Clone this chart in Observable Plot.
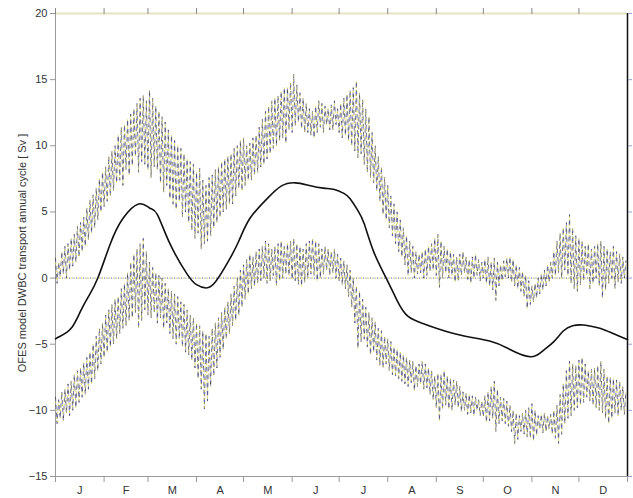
<!DOCTYPE html>
<html>
<head>
<meta charset="utf-8">
<script src="https://cdn.jsdelivr.net/npm/d3@7"></script>
<script src="https://cdn.jsdelivr.net/npm/@observablehq/plot@0.6"></script>
<style>
  html, body { margin: 0; padding: 0; background: #fff; }
  #chart { width: 633px; height: 498px; }
</style>
</head>
<body>
<div id="chart"></div>
<script>
// Month boundaries (day of year) and labels
const monthStarts = [0, 31, 59, 90, 120, 151, 181, 212, 243, 273, 304, 334, 365];
const monthLabels = ["J", "F", "M", "A", "M", "J", "J", "A", "S", "O", "N", "D"];
const yTicks = [-15, -10, -5, 0, 5, 10, 15, 20];
const yLabel = "OFES model DWBC transport annual cycle [ Sv ]";

// Mean annual cycle (thick line): day, value
const meanDays = [0, 3, 10, 16, 21, 27, 35, 43, 53, 60, 65, 73, 84, 90, 96, 102, 110, 117, 124, 135, 144, 153, 162, 171, 178, 184, 188, 193, 197, 203, 211, 218, 225, 237, 256, 278, 290, 303, 311, 318, 324, 330, 337, 344, 350, 358, 365];
const meanVals = [-4.6, -4.4, -3.8, -2.5, -1.4, 0, 2.6, 4.5, 5.6, 5.3, 4.8, 2.6, 0.3, -0.5, -0.75, -0.3, 1.2, 2.8, 4.5, 6.0, 6.95, 7.2, 7.0, 6.8, 6.7, 6.4, 6.0, 5.1, 4.1, 2.0, 0, -1.7, -2.9, -3.55, -4.25, -4.8, -5.4, -5.95, -5.5, -4.8, -4.0, -3.6, -3.55, -3.7, -3.9, -4.3, -4.65];

// Daily noisy envelopes (day 0 .. 364)
const upperVals = [
 1.5,-0.4,1.2,0.1, 2.0,0.3,2.4,0.0, 2.6,0.6,3.0,0.9, 3.3,1.2,3.9,1.6, 4.2,2.0,4.6,2.4, 5.3,2.9,5.9,3.4,
 6.3,3.8,6.8,4.4, 7.5,5.0,8.0,5.4, 8.4,5.8,9.2,6.2, 9.6,6.6,10.0,7.2, 10.8,7.4,11.4,7.0, 11.6,8.2,12.0,7.8,
 12.4,8.5,12.8,9.2, 13.2,8.0,13.6,8.8, 13.8,8.6,13.4,8.2, 14.2,7.6,13.6,8.4, 13.0,8.2,12.6,7.2, 12.2,6.5,11.8,7.0,
 11.2,6.0,10.8,5.6, 10.4,5.2,10.0,5.8, 9.8,4.6,9.4,5.0, 9.0,4.2,8.8,3.6, 8.6,3.0,8.0,3.4, 8.3,2.2,7.4,2.6,
 7.0,2.8,7.6,3.2, 7.8,3.8,8.2,4.2, 8.4,4.6,8.8,5.0, 9.0,5.2,9.2,5.6, 9.4,5.6,9.8,6.2, 10.0,6.8,10.4,6.6,
 10.6,7.0,10.0,7.4, 10.2,7.4,10.6,7.8, 10.8,8.0,11.4,8.4, 12.0,8.6,12.6,9.0, 13.0,9.4,13.4,9.8, 13.6,10.0,13.8,10.4,
 14.1,10.6,14.4,10.2, 14.4,11.2,14.8,11.0, 15.4,11.5,14.6,11.8, 14.0,11.3,13.6,11.0, 13.2,11.0,12.8,10.8, 12.6,10.6,13.0,11.0,
 13.4,11.4,13.2,11.0, 13.0,11.6,12.8,11.2, 13.1,11.2,13.4,11.6, 12.8,11.0,13.2,10.6, 13.6,10.8,13.9,10.4, 14.2,10.0,14.4,9.6,
 14.9,9.1,14.0,9.4, 13.5,8.6,12.8,8.0, 12.2,7.6,11.0,7.2, 10.0,6.6,9.2,5.8, 8.4,4.8,7.6,4.4, 7.0,3.8,6.2,3.2,
 5.6,2.6,5.0,2.0, 4.4,1.6,3.8,1.0, 3.2,0.2,2.8,0.4, 2.4,0.0,2.0,0.3, 1.8,0.4,2.0,0.0, 2.2,0.2,2.4,0.5,
 2.6,0.6,3.0,0.2, 3.3,-0.7,2.8,0.0, 2.4,0.4,2.2,0.0, 2.0,0.2,1.8,-0.3, 1.6,-0.2,1.8,0.2, 2.0,0.4,1.6,-0.1,
 1.4,-0.4,1.6,0.0, 1.8,0.2,1.4,-0.2, 1.2,0.0,1.4,-0.4, 1.6,-0.6,1.2,-0.9, 1.5,-1.7,1.2,-0.6, 1.0,-0.2,1.3,0.1,
 1.5,0.0,1.6,-0.3, 1.4,-0.6,1.0,-0.8, 0.8,-1.0,0.5,-1.4, 0.2,-2.3,-0.2,-2.0, -0.6,-1.8,-0.4,-1.5, 0.0,-1.2,0.3,-0.9,
 0.6,-0.6,1.0,-0.3, 1.2,0.0,2.0,0.2, 2.8,0.4,3.4,0.0, 3.8,0.6,4.2,0.2, 4.8,-0.4,3.8,-0.8, 3.2,-1.0,3.0,-0.5,
 2.8,-0.2,2.4,0.2, 2.6,-0.8,2.2,-0.4, 2.4,0.0,2.6,-0.6, 2.8,-1.5,2.4,-0.9, 2.2,-0.4,2.0,0.0, 2.4,-0.8,2.0,-0.3,
 1.8,-0.4,1.6,0.0, 1.3
];
const lowerVals = [
 -9.0,-11.0,-9.2,-10.6, -8.6,-10.8,-8.4,-10.2, -8.0,-10.4,-7.8,-10.0, -7.3,-9.8,-7.0,-9.4, -6.8,-9.0,-6.4,-8.8, -6.0,-8.4,-5.6,-8.0,
 -5.0,-7.6,-4.4,-7.0, -3.8,-6.5,-3.4,-6.0, -2.8,-5.6,-2.4,-5.2, -2.0,-5.0,-1.6,-4.6, -1.4,-4.2,-0.8,-3.8, -0.4,-3.6,0.4,-3.2,
 1.2,-3.0,1.8,-2.6, 2.2,-3.8,2.6,-3.2, 3.0,-2.4,2.0,-2.8, 1.2,-3.0,0.8,-2.6, 0.4,-3.4,0.2,-3.0, 0.0,-3.8,-0.4,-3.4,
 -0.8,-4.2,-1.0,-4.6, -1.2,-5.0,-1.4,-4.6, -1.8,-5.2,-2.0,-5.6, -2.4,-5.8,-2.8,-6.2, -3.0,-6.8,-3.4,-7.6, -3.6,-8.4,-4.0,-9.9,
 -4.2,-9.3,-4.4,-8.2, -3.8,-7.4,-3.4,-6.8, -3.0,-6.0,-2.6,-5.4, -2.2,-4.6,-1.8,-4.2, -1.2,-3.6,-0.6,-3.2, 0.0,-2.8,0.6,-2.2,
 1.0,-1.6,1.4,-1.2, 1.8,-0.8,1.6,-0.6, 2.0,-0.4,2.2,-0.2, 2.4,0.0,2.8,-0.4, 2.6,-0.2,2.2,0.2, 2.4,-0.6,2.6,-0.2,
 2.8,0.0,2.4,0.3, 2.6,0.2,2.8,-0.1, 3.0,-0.2,2.6,-0.5, 2.4,-0.6,2.2,-0.3, 2.6,0.0,2.8,0.3, 3.0,0.2,2.8,-0.2,
 2.6,0.0,2.2,0.3, 2.4,0.6,2.2,0.2, 2.0,0.4,2.2,0.0, 1.8,-0.2,1.5,-0.5, 1.3,-0.8,1.0,-1.4, 0.6,-2.2,0.0,-3.4,
 -0.6,-5.3,-1.0,-4.8, -1.6,-4.6,-2.2,-5.2, -2.6,-5.8,-3.0,-5.6, -3.3,-6.2,-3.8,-6.6, -4.0,-6.8,-4.4,-6.5, -4.6,-7.0,-4.8,-7.3,
 -5.2,-7.4,-5.4,-7.6, -5.6,-7.8,-5.8,-8.0, -6.0,-8.2,-6.2,-7.9, -6.3,-8.5,-6.6,-8.2, -6.5,-8.0,-6.3,-8.4, -6.5,-8.3,-6.8,-8.8,
 -7.0,-9.2,-7.4,-9.8, -7.2,-10.8,-7.3,-9.9, -7.0,-9.6,-7.4,-9.9, -7.6,-10.0,-7.7,-9.6, -7.8,-9.8,-8.2,-10.1, -8.6,-10.0,-8.7,-10.3,
 -8.8,-10.2,-8.9,-10.4, -9.0,-10.0,-9.2,-10.4, -9.3,-10.5,-8.9,-10.9, -8.6,-10.8,-8.2,-10.6, -7.8,-11.6,-8.4,-11.0, -9.0,-10.8,-9.1,-11.0,
 -9.3,-11.2,-9.6,-11.6, -10.0,-12.5,-10.2,-12.2, -10.4,-11.6,-10.2,-11.8, -10.0,-12.0,-9.8,-12.1, -9.5,-12.3,-10.0,-11.9, -10.4,-11.4,-10.3,-11.7,
 -10.2,-11.6,-10.4,-11.4, -10.3,-11.8,-10.0,-12.1, -9.6,-12.5,-8.8,-11.8, -8.0,-11.0,-7.0,-10.6, -6.3,-10.4,-6.5,-10.0, -6.6,-9.8,-6.2,-9.6,
 -6.0,-9.4,-6.5,-9.0, -7.0,-9.3,-6.9,-9.6, -6.8,-9.8,-6.6,-10.0, -6.3,-10.2,-6.9,-10.6, -7.4,-11.0,-7.5,-10.6, -7.6,-10.2,-7.7,-10.4,
 -7.8,-10.0,-8.2,-10.3, -8.5
];

const mean = meanDays.map((d, i) => ({day: d, v: meanVals[i]}));
const upper = upperVals.map((v, i) => ({day: i, v}));
const lower = lowerVals.map((v, i) => ({day: i, v}));
const months = monthLabels.map((m, i) => ({label: m, mid: (monthStarts[i] + monthStarts[i + 1]) / 2}));

const bandStyles = [
  {stroke: "#333333", strokeDasharray: "2,6", strokeDashoffset: 0},
  {stroke: "#3a44b0", strokeDasharray: "1.1,6.9", strokeDashoffset: -2.6},
  {stroke: "#d2c93c", strokeDasharray: "1.1,6.9", strokeDashoffset: -4.4}
];
const bandMarks = [];
for (const band of [upper, lower]) {
  for (const s of bandStyles) {
    bandMarks.push(Plot.line(band, {x: "day", y: "v", strokeWidth: 0.7, ...s}));
  }
}

const chart = Plot.plot({
  width: 633,
  height: 498,
  marginLeft: 55,
  marginRight: 6,
  marginTop: 13,
  marginBottom: 22,
  style: {fontFamily: "'Liberation Sans', Arial, sans-serif", fontSize: "11px", background: "#fff"},
  x: {domain: [0, 365]},
  y: {domain: [-15, 20]},
  marks: [
    Plot.ruleY([20], {stroke: "#e6e2bd", strokeWidth: 2}),
    Plot.ruleX([0], {stroke: "#9a9a9a", strokeWidth: 1}),
    Plot.ruleY([-15], {stroke: "#9a9a9a", strokeWidth: 1}),
    Plot.ruleY([0], {stroke: "#5a60a0", strokeWidth: 1, strokeDasharray: "1,2.5"}),
    Plot.ruleY([0], {stroke: "#c8c23a", strokeWidth: 1, strokeDasharray: "1,2.5", strokeDashoffset: -1.7}),
    ...bandMarks,
    Plot.line(mean, {x: "day", y: "v", stroke: "#111", strokeWidth: 1.6, curve: "natural"}),
    Plot.ruleX([365], {stroke: "#111", strokeWidth: 1.5}),
    Plot.axisY({ticks: yTicks, tickSize: 5, tickPadding: 3, label: null, stroke: "#999", color: "#333", fontSize: 11}),
    Plot.axisY({anchor: "right", ticks: yTicks, tickSize: 4, tickFormat: () => "", label: null, stroke: "#9aa0d0"}),
    Plot.axisX({anchor: "bottom", ticks: monthStarts, tickSize: 6, tickFormat: () => "", label: null, stroke: "#999"}),
    Plot.axisX({anchor: "top", ticks: monthStarts.slice(0, -1), tickSize: 6, tickFormat: () => "", label: null, stroke: "#888"}),
    Plot.text(months, {x: "mid", frameAnchor: "bottom", dy: 17, text: "label", fill: "#333", fontSize: 11}),
    Plot.text([yLabel], {frameAnchor: "left", textAnchor: "middle", dx: -33, dy: 8, rotate: -90, fill: "#333", fontSize: 11})
  ]
});
document.getElementById("chart").appendChild(chart);
</script>
</body>
</html>
